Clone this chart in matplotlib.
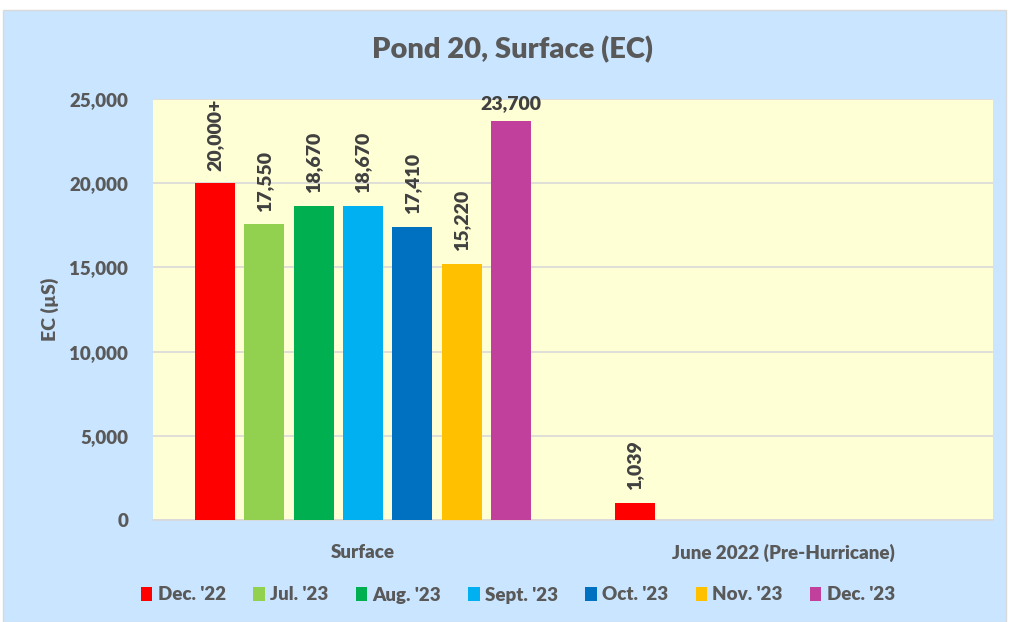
import matplotlib
matplotlib.use("Agg")
import matplotlib.pyplot as plt
import numpy as np
from matplotlib.patches import Rectangle

categories = ["Surface", "June 2022 (Pre-Hurricane)"]
series = ["Dec. '22", "Jul. '23", "Aug. '23", "Sept. '23", "Oct. '23", "Nov. '23", "Dec. '23"]
values = {
    "Dec. '22": [20000, 1039],
    "Jul. '23": [17550, None],
    "Aug. '23": [18670, None],
    "Sept. '23": [18670, None],
    "Oct. '23": [17410, None],
    "Nov. '23": [15220, None],
    "Dec. '23": [23700, None],
}
labels = {
    "Dec. '22": ["20,000+", "1,039"],
    "Jul. '23": ["17,550", None],
    "Aug. '23": ["18,670", None],
    "Sept. '23": ["18,670", None],
    "Oct. '23": ["17,410", None],
    "Nov. '23": ["15,220", None],
    "Dec. '23": ["23,700", None],
}
colors = ["#FF0000", "#92D050", "#00B050", "#00B0F0", "#0070C0", "#FFC000", "#C1409B"]
yticks = [0, 5000, 10000, 15000, 20000, 25000]

plt.rcParams['font.family'] = ['Lato', 'DejaVu Sans']
txt = "#595959"
lab = "#404040"

fig = plt.figure(figsize=(10.09, 6.22), dpi=100)
fig.patch.set_facecolor("white")
fig.patches.append(Rectangle((3/1009, 0), 1003/1009, 1 - 10/622, transform=fig.transFigure,
                             facecolor="#C9E5FF", edgecolor="#D9D9D9", lw=1, zorder=-10))
ax = fig.add_axes([153/1009, 1 - 520/622, 840/1009, 421/622])
ax.set_facecolor("#FFFFD5")

x = np.arange(len(categories))
slot = 0.1176
bw = 0.095
for i, s in enumerate(series):
    vals = np.array([np.nan if v is None else v for v in values[s]], dtype=float)
    pos = x + (i - 3) * slot
    ax.bar(pos, vals, width=bw, color=colors[i], label=s, zorder=3)
    for p, v, l in zip(pos, vals, labels[s]):
        if l is None or np.isnan(v):
            continue
        if s == "Dec. '23":
            ax.annotate(l, (p, v), xytext=(0, 6), textcoords="offset points",
                        ha="center", va="bottom", fontsize=14, fontweight="heavy", color=lab)
        else:
            ax.annotate(l, (p, v), xytext=(0, 9), textcoords="offset points",
                        ha="center", va="bottom", rotation=90, fontsize=14,
                        fontweight="heavy", color=lab)

ax.set_xlim(-0.5, 1.5)
ax.set_ylim(0, 25000)
ax.set_yticks(yticks)
ax.set_yticklabels([f"{t:,}" for t in yticks])
ax.set_xticks(x)
ax.set_xticklabels(categories)
ax.grid(axis="y", color="#D9D9D9", lw=1.2, zorder=0)
for sp in ["top", "right", "left"]:
    ax.spines[sp].set_visible(False)
ax.spines["bottom"].set_color("#D9D9D9")
ax.spines["bottom"].set_linewidth(1.2)
ax.tick_params(axis="both", length=0, colors=txt, labelsize=13.5)
ax.tick_params(axis="x", pad=17)
ax.tick_params(axis="y", pad=18)
for t in ax.get_xticklabels() + ax.get_yticklabels():
    t.set_fontweight("heavy")
ax.set_ylabel("EC (µS)", fontsize=14, fontweight="heavy", color=txt, labelpad=7)

fig.text(512/1009, 1 - 50/622, "Pond 20, Surface (EC)", ha="center", va="center",
         fontsize=21, fontweight="heavy", color=txt)

leg = fig.legend(loc="center", bbox_to_anchor=(518/1009, 1 - 595/622), ncol=7,
                 frameon=False, fontsize=13.5, handlelength=0.6, handleheight=0.7,
                 handletextpad=0.3, columnspacing=1.45)
for t in leg.get_texts():
    t.set_color(txt)
    t.set_fontweight("heavy")

fig.savefig("out.png", dpi=100, facecolor=fig.get_facecolor())
